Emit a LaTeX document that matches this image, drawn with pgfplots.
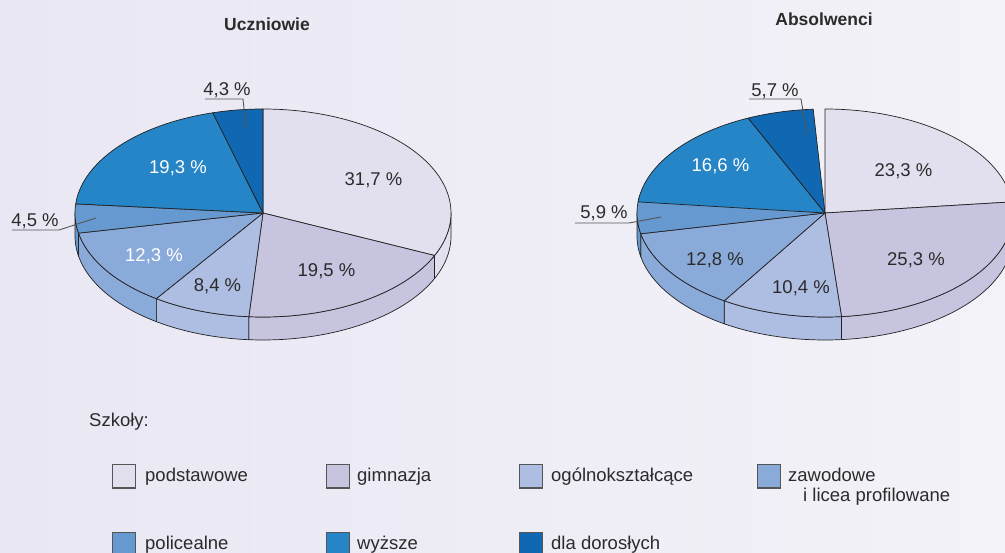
\documentclass[border=0pt]{standalone}
\usepackage{pgfplots}
\pgfplotsset{compat=1.18}
\usepackage{fontspec}
\setmainfont{Liberation Sans}
\definecolor{bgL}{HTML}{E9E7F3}
\definecolor{bgR}{HTML}{F3F2F8}
\definecolor{c1}{HTML}{E2DFEE}
\definecolor{c2}{HTML}{C7C4E0}
\definecolor{c3}{HTML}{AEBDE2}
\definecolor{c4}{HTML}{8AAAD9}
\definecolor{c5}{HTML}{6699D0}
\definecolor{c6}{HTML}{2585C6}
\definecolor{c7}{HTML}{1068B3}
\definecolor{edge}{HTML}{222222}
\definecolor{txt}{HTML}{2B2B2B}
\definecolor{lead}{HTML}{555555}
\tikzset{lab/.style={font=\fontsize{18.5}{22}\selectfont, inner sep=0pt, text=txt},
  ttl/.style={font=\fontsize{17.5}{21}\selectfont\bfseries, inner sep=0pt, text=txt}}
\def\RX{188}\def\RY{104}\def\DP{23}
% top face of a slice: centre x, centre y, cumulative % before, %, colour
\newcommand\topslice[5]{%
  \pgfmathsetmacro\aS{90-3.6*#3}%
  \pgfmathsetmacro\aE{90-3.6*(#3+#4)}%
  \edef\tmp{\noexpand\addplot[fill=#5, draw=edge, line width=0.7pt, line join=round, domain=0:1, samples=90]
    ({#1+\RX*cos(\aS+(\aE-\aS)*x)}, {#2-\RY*sin(\aS+(\aE-\aS)*x)}) -- (axis cs:#1,#2) -- cycle;}%
  \tmp}
% side face of a slice (visible lower half only)
\newcommand\sideslice[5]{%
  \pgfmathsetmacro\hi{min(0, 90-3.6*#3)}%
  \pgfmathsetmacro\lo{max(-180, 90-3.6*(#3+#4))}%
  \ifdim\hi pt>\lo pt
  \edef\tmp{\noexpand\addplot[fill=#5, draw=edge, line width=0.7pt, line join=round, domain=0:2.025, samples=82]
    ({#1+\RX*cos(x<1.0125 ? \hi+(\lo-\hi)*min(x,1) : \lo-(\lo-\hi)*min(max(x-1.025,0),1))},
     {#2+(x<1.0125 ? 0 : \DP)-\RY*sin(x<1.0125 ? \hi+(\lo-\hi)*min(x,1) : \lo-(\lo-\hi)*min(max(x-1.025,0),1))}) -- cycle;}%
  \tmp
  \fi}
\begin{document}
\begin{tikzpicture}
\fill[left color=bgL, right color=bgR] (0,0) rectangle (1005pt,553pt);
\begin{axis}[at={(0,0)}, anchor=south west, scale only axis, width=1005pt, height=553pt,
  xmin=0, xmax=1005, ymin=0, ymax=553, y dir=reverse, axis lines=none, ticks=none, clip=true]
% ---- Uczniowie: 31.7, 19.5, 8.4, 12.3, 4.5, 19.3, 4.3
\sideslice{263}{213}{0}{31.7}{c1}
\sideslice{263}{213}{31.7}{19.5}{c2}
\sideslice{263}{213}{51.2}{8.4}{c3}
\sideslice{263}{213}{59.6}{12.3}{c4}
\sideslice{263}{213}{71.9}{4.5}{c5}
\topslice{263}{213}{0}{31.7}{c1}
\topslice{263}{213}{31.7}{19.5}{c2}
\topslice{263}{213}{51.2}{8.4}{c3}
\topslice{263}{213}{59.6}{12.3}{c4}
\topslice{263}{213}{71.9}{4.5}{c5}
\topslice{263}{213}{76.4}{19.3}{c6}
\topslice{263}{213}{95.7}{4.3}{c7}
% ---- Absolwenci: 23.3, 25.3, 10.4, 12.8, 5.9, 16.6, 5.7
\sideslice{825}{213}{0}{23.3}{c1}
\sideslice{825}{213}{23.3}{25.3}{c2}
\sideslice{825}{213}{48.6}{10.4}{c3}
\sideslice{825}{213}{59.0}{12.8}{c4}
\sideslice{825}{213}{71.8}{5.9}{c5}
\topslice{825}{213}{0}{23.3}{c1}
\topslice{825}{213}{23.3}{25.3}{c2}
\topslice{825}{213}{48.6}{10.4}{c3}
\topslice{825}{213}{59.0}{12.8}{c4}
\topslice{825}{213}{71.8}{5.9}{c5}
\topslice{825}{213}{76.7}{16.6}{c6}
\topslice{825}{213}{93.3}{5.7}{c7}
% titles
\node[ttl, anchor=base] at (axis cs:267,31) {Uczniowie};
\node[ttl, anchor=base] at (axis cs:824,26) {Absolwenci};
% labels left
\node[lab, anchor=base] at (axis cs:373.5,186) {31,7 \%};
\node[lab, anchor=base] at (axis cs:326.5,277) {19,5 \%};
\node[lab, anchor=base] at (axis cs:217.5,292) {8,4 \%};
\node[lab, anchor=base, text=white] at (axis cs:154,262) {12,3 \%};
\node[lab, anchor=base, text=white] at (axis cs:178,174) {19,3 \%};
\node[lab, anchor=base] at (axis cs:227,96) {4,3 \%};
\node[lab, anchor=base] at (axis cs:35,227) {4,5 \%};
\draw[lead, line width=0.9pt] (axis cs:205,99) -- (axis cs:243,99) -- (axis cs:246,129);
\draw[lead, line width=0.9pt] (axis cs:12,230) -- (axis cs:59,230) -- (axis cs:96,218);
% labels right
\node[lab, anchor=base] at (axis cs:903.5,177) {23,3 \%};
\node[lab, anchor=base] at (axis cs:916,266) {25,3 \%};
\node[lab, anchor=base] at (axis cs:801,294) {10,4 \%};
\node[lab, anchor=base] at (axis cs:715,266) {12,8 \%};
\node[lab, anchor=base, text=white] at (axis cs:720.5,172) {16,6 \%};
\node[lab, anchor=base] at (axis cs:775,97) {5,7 \%};
\node[lab, anchor=base] at (axis cs:604,219) {5,9 \%};
\draw[lead, line width=0.9pt] (axis cs:749,99) -- (axis cs:801,99) -- (axis cs:807,135);
\draw[lead, line width=0.9pt] (axis cs:575,223) -- (axis cs:629,223) -- (axis cs:661,217);
% legend
\node[lab, anchor=base west] at (axis cs:89,427) {Szkoły:};
\draw[lead, line width=1pt, fill=c1] (axis cs:112,465) rectangle (axis cs:135,488);
\node[lab, anchor=base west] at (axis cs:145,482) {podstawowe};
\draw[lead, line width=1pt, fill=c2] (axis cs:326,465) rectangle (axis cs:349,488);
\node[lab, anchor=base west] at (axis cs:357,482) {gimnazja};
\draw[lead, line width=1pt, fill=c3] (axis cs:519,465) rectangle (axis cs:542,488);
\node[lab, anchor=base west] at (axis cs:551,482) {ogólnokształcące};
\draw[lead, line width=1pt, fill=c4] (axis cs:757,465) rectangle (axis cs:780,488);
\node[lab, anchor=base west] at (axis cs:788,482) {zawodowe};
\node[lab, anchor=base west] at (axis cs:803,501) {i licea profilowane};
\draw[lead, line width=1pt, fill=c5] (axis cs:112,532) rectangle (axis cs:135,555);
\node[lab, anchor=base west] at (axis cs:145,549) {policealne};
\draw[lead, line width=1pt, fill=c6] (axis cs:326,532) rectangle (axis cs:349,555);
\node[lab, anchor=base west] at (axis cs:357,549) {wyższe};
\draw[lead, line width=1pt, fill=c7] (axis cs:519,532) rectangle (axis cs:542,555);
\node[lab, anchor=base west] at (axis cs:551,549) {dla dorosłych};
\end{axis}
\end{tikzpicture}
\end{document}
